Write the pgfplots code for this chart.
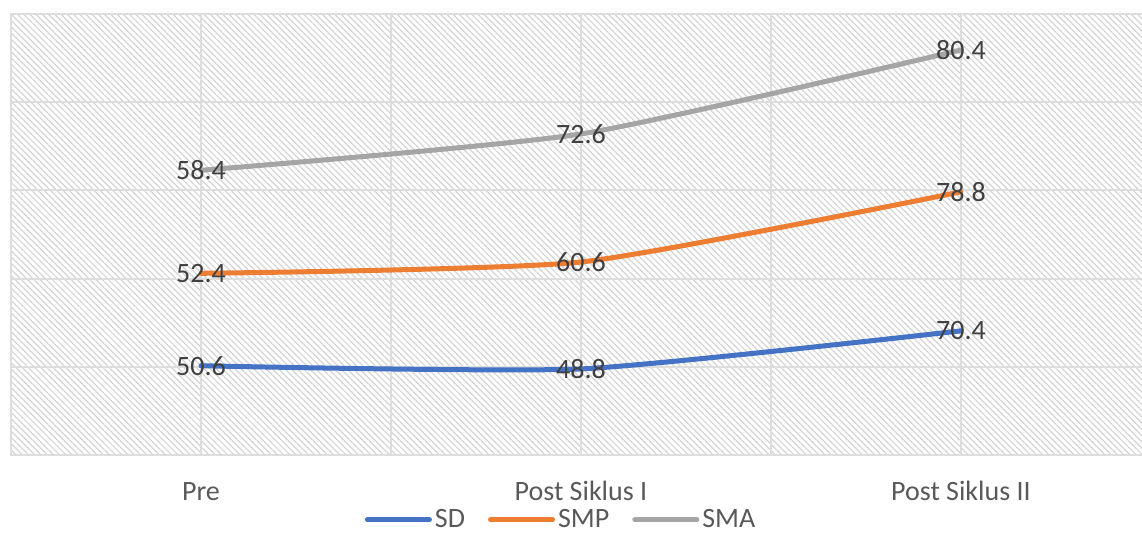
\documentclass[border=0pt]{standalone}
\usepackage{pgfplots}
\pgfplotsset{compat=1.18}
\usetikzlibrary{patterns.meta}
\usepackage{fontspec}
\setmainfont{Carlito}

\definecolor{sdblue}{HTML}{4472C4}
\definecolor{smporange}{HTML}{ED7D31}
\definecolor{smagray}{HTML}{A5A5A5}
\definecolor{gridgray}{HTML}{DDDDDD}
\definecolor{hatchgray}{HTML}{D4D4D4}
\definecolor{labelgray}{HTML}{404040}
\definecolor{tickgray}{HTML}{595959}

\begin{document}
\begin{tikzpicture}
\begin{axis}[
    anchor=south west, at={(0,0)},
    scale only axis,
    width=570pt, height=220.5pt,
    xmin=-0.5, xmax=2.5, ymin=0, ymax=250,
    xtick={0,1,2},
    xticklabels={Pre,Post Siklus I,Post Siklus II},
    minor xtick={-0.5,0.5,1.5,2.5},
    ytick={0,50,...,250}, yticklabels={},
    tick style={draw=none},
    grid=both,
    major grid style={draw=gridgray, line width=1pt},
    minor grid style={draw=gridgray, line width=1pt},
    axis line style={draw=gridgray, line width=1.2pt},
    axis background/.style={
        pattern={Lines[angle=-45, distance=2.2pt, line width=0.6pt]},
        pattern color=hatchgray},
    xticklabel style={font=\fontsize{14}{16}\selectfont, text=tickgray,
        anchor=base, yshift=-22.5pt},
    stack plots=y,
    point meta=explicit,
    nodes near coords,
    /pgf/number format/.cd, fixed, fixed zerofill, precision=1,
        assume math mode=true,
    /pgfplots/.cd,
    every node near coord/.append style={anchor=center,
        font=\fontsize{14}{16}\selectfont, text=labelgray},
    every axis plot/.append style={line width=2.5pt, line cap=round,
        line join=round, smooth, tension=0.35, mark=none},
    legend columns=-1,
    legend style={at={(0.483,-0.147)}, anchor=center, draw=none, fill=none,
        font=\fontsize{14}{16}\selectfont, text=tickgray,
        nodes={inner xsep=1.5pt, inner ysep=0pt},
        /tikz/every even column/.append style={column sep=10pt}},
    legend image code/.code={\draw[#1, line cap=round] (0pt,0pt) -- (31pt,0pt);},
]
\addplot[sdblue] coordinates {(0,50.6) [50.6] (1,48.8) [48.8] (2,70.4) [70.4]};
\addplot[smporange] coordinates {(0,52.4) [52.4] (1,60.6) [60.6] (2,78.8) [78.8]};
\addplot[smagray] coordinates {(0,58.4) [58.4] (1,72.6) [72.6] (2,80.4) [80.4]};
\legend{SD,SMP,SMA}
\end{axis}
\pgfresetboundingbox
\path (-5.5pt,-38.5pt) rectangle (565.5pt,227.5pt);
\end{tikzpicture}
\end{document}
